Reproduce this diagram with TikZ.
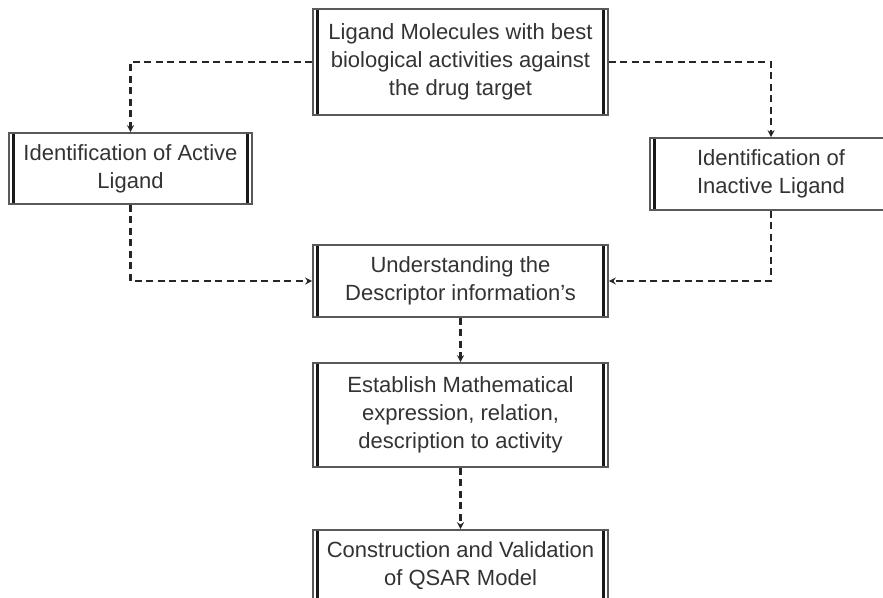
\documentclass[tikz,border=0pt]{standalone}
\usepackage{fontspec}
\setmainfont{Liberation Sans}
\usetikzlibrary{positioning,arrows.meta}

\tikzset{
  procbox/.style={draw=gray!70!black, line width=1.6pt, fill=white, align=center,
    minimum width=295pt, inner sep=0pt, text=black!80,
    font=\fontsize{22}{28}\selectfont,
    path picture={
      \draw[line width=3pt, black!90]
        ([xshift=4.5pt]path picture bounding box.north west) --
        ([xshift=4.5pt]path picture bounding box.south west);
      \draw[line width=3pt, black!90]
        ([xshift=-4.5pt]path picture bounding box.north east) --
        ([xshift=-4.5pt]path picture bounding box.south east);
    }},
  flow/.style={line width=2.2pt, black!85, dash pattern=on 7pt off 4.5pt,
    -{Stealth[length=7pt,width=7pt]}}
}

\begin{document}
\begin{tikzpicture}[x=1pt, y=-1pt]
    \useasboundingbox (0,0) rectangle (883,597);
    \clip (0,0) rectangle (883,597);

    \node[procbox, minimum height=106pt] (lig) at (460.5,62)
        {Ligand Molecules with best\\biological activities against\\the drug target};
    \node[procbox, minimum width=243pt, minimum height=71pt] (act) at (130.5,168.5)
        {Identification of Active\\Ligand};
    \node[procbox, minimum width=242pt, minimum height=72pt] (inact) at (771,174)
        {Identification of\\Inactive Ligand};
    \node[procbox, minimum height=72pt] (desc) at (460.5,281)
        {Understanding the\\Descriptor information's};
    \node[procbox, minimum height=104pt] (math) at (460.5,415)
        {Establish Mathematical\\expression, relation,\\description to activity};
    \node[procbox, minimum height=72pt] (qsar) at (460.5,566)
        {Construction and Validation\\of QSAR Model};

    \draw[flow] (lig.west) -| (act.north);
    \draw[flow] (lig.east) -| (inact.north);
    \draw[flow] (act.south) |- (desc.west);
    \draw[flow] (inact.south) |- (desc.east);
    \draw[flow] (desc) -- (math);
    \draw[flow] (math) -- (qsar);
\end{tikzpicture}
\end{document}
